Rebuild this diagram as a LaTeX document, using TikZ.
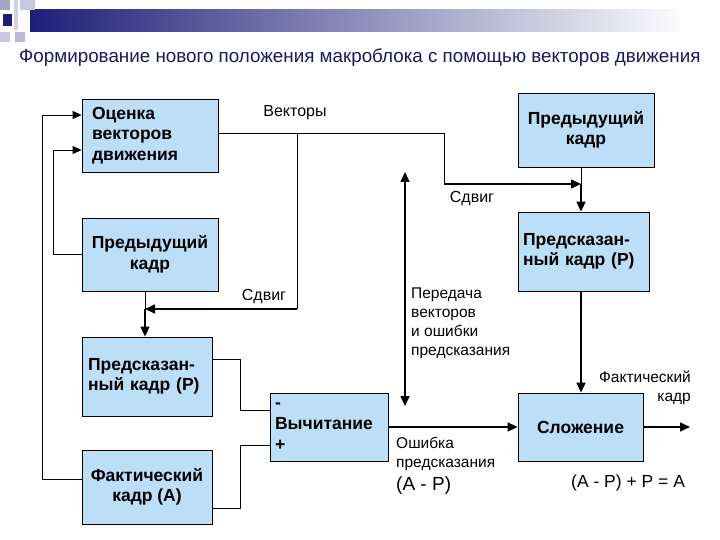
\documentclass[tikz,border=0pt]{standalone}
\usepackage{fontspec}
\setmainfont{Liberation Sans}
\usetikzlibrary{arrows.meta}
\definecolor{boxfill}{RGB}{189,222,247}
\definecolor{navy}{RGB}{30,30,120}
\begin{document}
\begin{tikzpicture}[x=1pt,y=-1pt,
  blk/.style={draw=black,fill=boxfill,line width=0.8pt,font=\bfseries\fontsize{17.5}{20.5}\selectfont,align=center,inner sep=2pt},
  lbl/.style={font=\fontsize{16}{18}\selectfont,align=left,inner sep=0pt},
  ln/.style={line width=0.8pt},
  arr/.style={line width=1.6pt,-{Triangle[length=10pt,width=9pt]}},
  arrt/.style={line width=0.8pt,-{Triangle[length=9pt,width=8pt]}}]
\useasboundingbox (0,0) rectangle (720,540);
% header decoration
\shade[left color=navy,right color=white] (30,10) rectangle (690,32);
\fill[white] (680,10) rectangle (720,32);
\fill[navy!40] (0,0) rectangle (10,10);
\fill[navy!25] (20,0) rectangle (35,10);
\fill[navy!25] (0,32) rectangle (10,42);
\fill[navy!30] (15,32) rectangle (25,42);
\fill[navy] (3,14) rectangle (12,26);
\fill[navy!20] (14,0) rectangle (18,30);
\node[font=\fontsize{18.8}{20}\selectfont,text=navy!80!black,anchor=west,inner sep=0pt] (title) at (19,58) {Формирование нового положения макроблока с помощью векторов движения};
% boxes
\node[blk,minimum width=136,minimum height=73,align=left,text width=116] (ocen) at (150,135.5) {Оценка\\векторов\\движения};
\node[blk,minimum width=136,minimum height=73] (prevL) at (150,254.5) {Предыдущий\\кадр};
\node[blk,minimum width=130,minimum height=79,align=left,text width=118] (predL) at (147,376.5) {Предсказан-\\ный кадр (P)};
\node[blk,minimum width=130,minimum height=74] (factL) at (147,487) {Фактический\\кадр (A)};
\node[blk,minimum width=118,minimum height=68,align=left,text width=108,font=\bfseries\fontsize{17.5}{21}\selectfont] (sub) at (329,427) {-\\Вычитание\\+};
\node[blk,minimum width=136,minimum height=74] (prevR) at (586,130) {Предыдущий\\кадр};
\node[blk,minimum width=131,minimum height=79,align=left,text width=121] (predR) at (583.5,251.5) {Предсказан-\\ный кадр (P)};
\node[blk,minimum width=125,minimum height=68] (add) at (580.5,427) {Сложение};
% coordinates
\coordinate (j1) at (297,133);
\coordinate (j2) at (297,309);
\coordinate (j3) at (145,309);
\coordinate (j4) at (444,133);
\coordinate (j5) at (444,184);
\coordinate (j6) at (581,184);
\coordinate (d1) at (405,172);
\coordinate (d2) at (405,406);
\coordinate (out) at (690,427);
\coordinate (f1) at (53,254.5);
\coordinate (f2) at (53,150);
\coordinate (g1) at (42,479);
\coordinate (g2) at (42,115);
\coordinate (h1) at (240,359);
\coordinate (h2) at (240,410);
\coordinate (k1) at (240,508);
\coordinate (k2) at (240,445);
% connectors
\draw[ln] (ocen.east|-j1) -- (j4) -- (j5);
\draw[arr] (j5) -- (j6);
\draw[ln] (j1) -- (j2);
\draw[arr] (j2) -- (j3);
\draw[ln] (prevR.south-|j6) -- (j6);
\draw[arr] (j6) -- (predR.north-|j6);
\draw[ln] (prevL.south-|j3) -- (j3);
\draw[arr] (j3) -- (predL.north-|j3);
\draw[arr] (predR.south-|j6) -- (add.north-|j6);
\draw[line width=1.6pt,{Triangle[length=10pt,width=9pt]}-{Triangle[length=10pt,width=9pt]}] (d1) -- (d2);
\draw[arr] (sub.east) -- (add.west);
\draw[arr] (add.east) -- (out);
\draw[arrt] (prevL.west) -- (f1) -- (f2) -- (ocen.west|-f2);
\draw[arrt] (factL.west|-g1) -- (g1) -- (g2) -- (ocen.west|-g2);
\draw[ln] (predL.east|-h1) -- (h1) -- (h2) -- (sub.west|-h2);
\draw[ln] (factL.east|-k1) -- (k1) -- (k2) -- (sub.west|-k2);
% labels
\node[lbl] (lv) at (295,113) {Векторы};
\node[lbl] (ls1) at (264,297) {Сдвиг};
\node[lbl] (ls2) at (472,199) {Сдвиг};
\node[lbl,font=\fontsize{15.5}{19}\selectfont,anchor=north west] (ltr) at (411,288) {Передача\\векторов\\и ошибки\\предсказания};
\node[lbl,font=\fontsize{15.5}{19}\selectfont,anchor=north west] (lerr) at (396,437) {Ошибка\\предсказания};
\node[lbl,font=\fontsize{19}{21}\selectfont,anchor=west] (lap) at (396,486) {(A - P)};
\node[lbl,font=\fontsize{15.5}{19}\selectfont,align=right,anchor=north east] (lfk) at (691,371) {Фактический\\кадр};
\node[lbl,font=\fontsize{17.5}{19}\selectfont,anchor=west] (leq) at (571,483) {(A - P) + P = A};
\end{tikzpicture}
\end{document}
